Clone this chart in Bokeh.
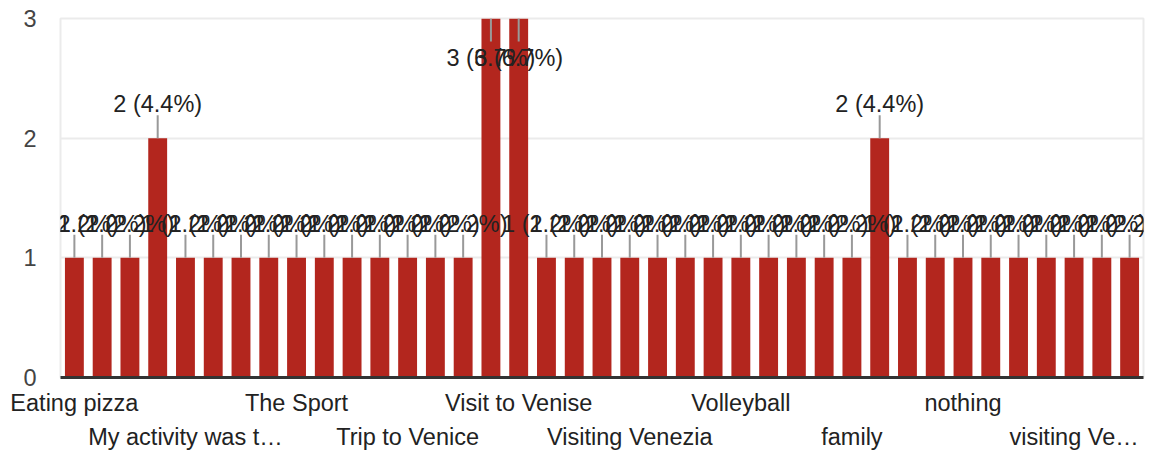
from bokeh.plotting import figure
from bokeh.models import Range1d, FixedTicker, LinearAxis, Label
from bokeh.embed import file_html
from bokeh.resources import INLINE

# ---- data -------------------------------------------------------------
values = [1, 1, 1, 2, 1, 1, 1, 1, 1, 1, 1, 1, 1, 1, 1, 3, 3, 1, 1, 1,
          1, 1, 1, 1, 1, 1, 1, 1, 1, 2, 1, 1, 1, 1, 1, 1, 1, 1, 1]
row1_ticks = [0, 8, 16, 24, 32]
row1_labels = ["Eating pizza", "The Sport", "Visit to Venise", "Volleyball", "nothing"]
row2_ticks = [4, 12, 20, 28, 36]
row2_labels = ["My activity was t\u2026", "Trip to Venice", "Visiting Venezia", "family", "visiting Ve\u2026"]
y_ticks = [0, 1, 2, 3]

# ---- style ------------------------------------------------------------
FONT = "Liberation Sans"
FS = "23.5px"
BAR = "#b3261e"
TXT = "#222222"

n = len(values)
idx = list(range(n))
total = sum(values)
ymax = 3

W, H = 1149, 452
ML, MR, MT, MB = 60, 6, 18, 75
frame_h = H - MT - MB
px = ymax / frame_h  # data units per pixel

p = figure(width=W, height=H, output_backend="svg", toolbar_location=None,
           x_range=Range1d(-0.5, n - 0.5), y_range=Range1d(0, ymax),
           min_border_left=ML, min_border_right=MR, min_border_top=MT,
           min_border_bottom=MB, x_axis_location=None)
p.background_fill_color = "white"
p.border_fill_color = "white"
p.outline_line_color = "#ebebeb"
p.outline_line_width = 2

p.xgrid.visible = False
p.ygrid.grid_line_color = "#ebebeb"
p.ygrid.grid_line_width = 2
p.ygrid.ticker = FixedTicker(ticks=y_ticks)

yax = p.yaxis[0]
yax.ticker = FixedTicker(ticks=y_ticks)
yax.axis_line_color = None
yax.major_tick_line_color = None
yax.minor_tick_line_color = None
yax.major_tick_out = 0
yax.major_tick_in = 0
yax.minor_tick_out = 0
yax.major_label_standoff = 24
yax.major_label_text_font = FONT
yax.major_label_text_font_size = FS
yax.major_label_text_color = "#444444"

def make_xaxis(ticks, labels, standoff, line):
    ax = LinearAxis(ticker=FixedTicker(ticks=ticks),
                    major_label_overrides={t: l for t, l in zip(ticks, labels)})
    if line:
        ax.axis_line_color = "#333333"
        ax.axis_line_width = 3
    else:
        ax.axis_line_color = None
    ax.major_tick_line_color = None
    ax.minor_tick_line_color = None
    ax.major_tick_out = 0
    ax.major_tick_in = 0
    ax.minor_tick_out = 0
    ax.minor_tick_in = 0
    ax.major_label_standoff = standoff
    ax.major_label_text_font = FONT
    ax.major_label_text_font_size = FS
    ax.major_label_text_color = TXT
    return ax

p.add_layout(make_xaxis(row1_ticks, row1_labels, 12, True), "below")
p.add_layout(make_xaxis(row2_ticks, row2_labels, 5, False), "below")

p.vbar(x=idx, top=values, width=0.68, bottom=0, fill_color=BAR, line_color=None)

# leader lines
lead = 23 * px
y_end = [v - lead if v >= ymax else v + lead for v in values]
p.segment(x0=idx, y0=values, x1=idx, y1=y_end, line_color="#999999", line_width=2)

for i, v in zip(idx, values):
    txt = f"{v} ({v / total * 100:.1f}%)"
    off = -39 if v >= ymax else 34
    p.add_layout(Label(x=i, y=v, text=txt, text_align="center",
                       text_baseline="alphabetic", y_offset=off,
                       text_font=FONT, text_font_size=FS, text_color=TXT))

open("out.html", "w").write(file_html(p, INLINE))
